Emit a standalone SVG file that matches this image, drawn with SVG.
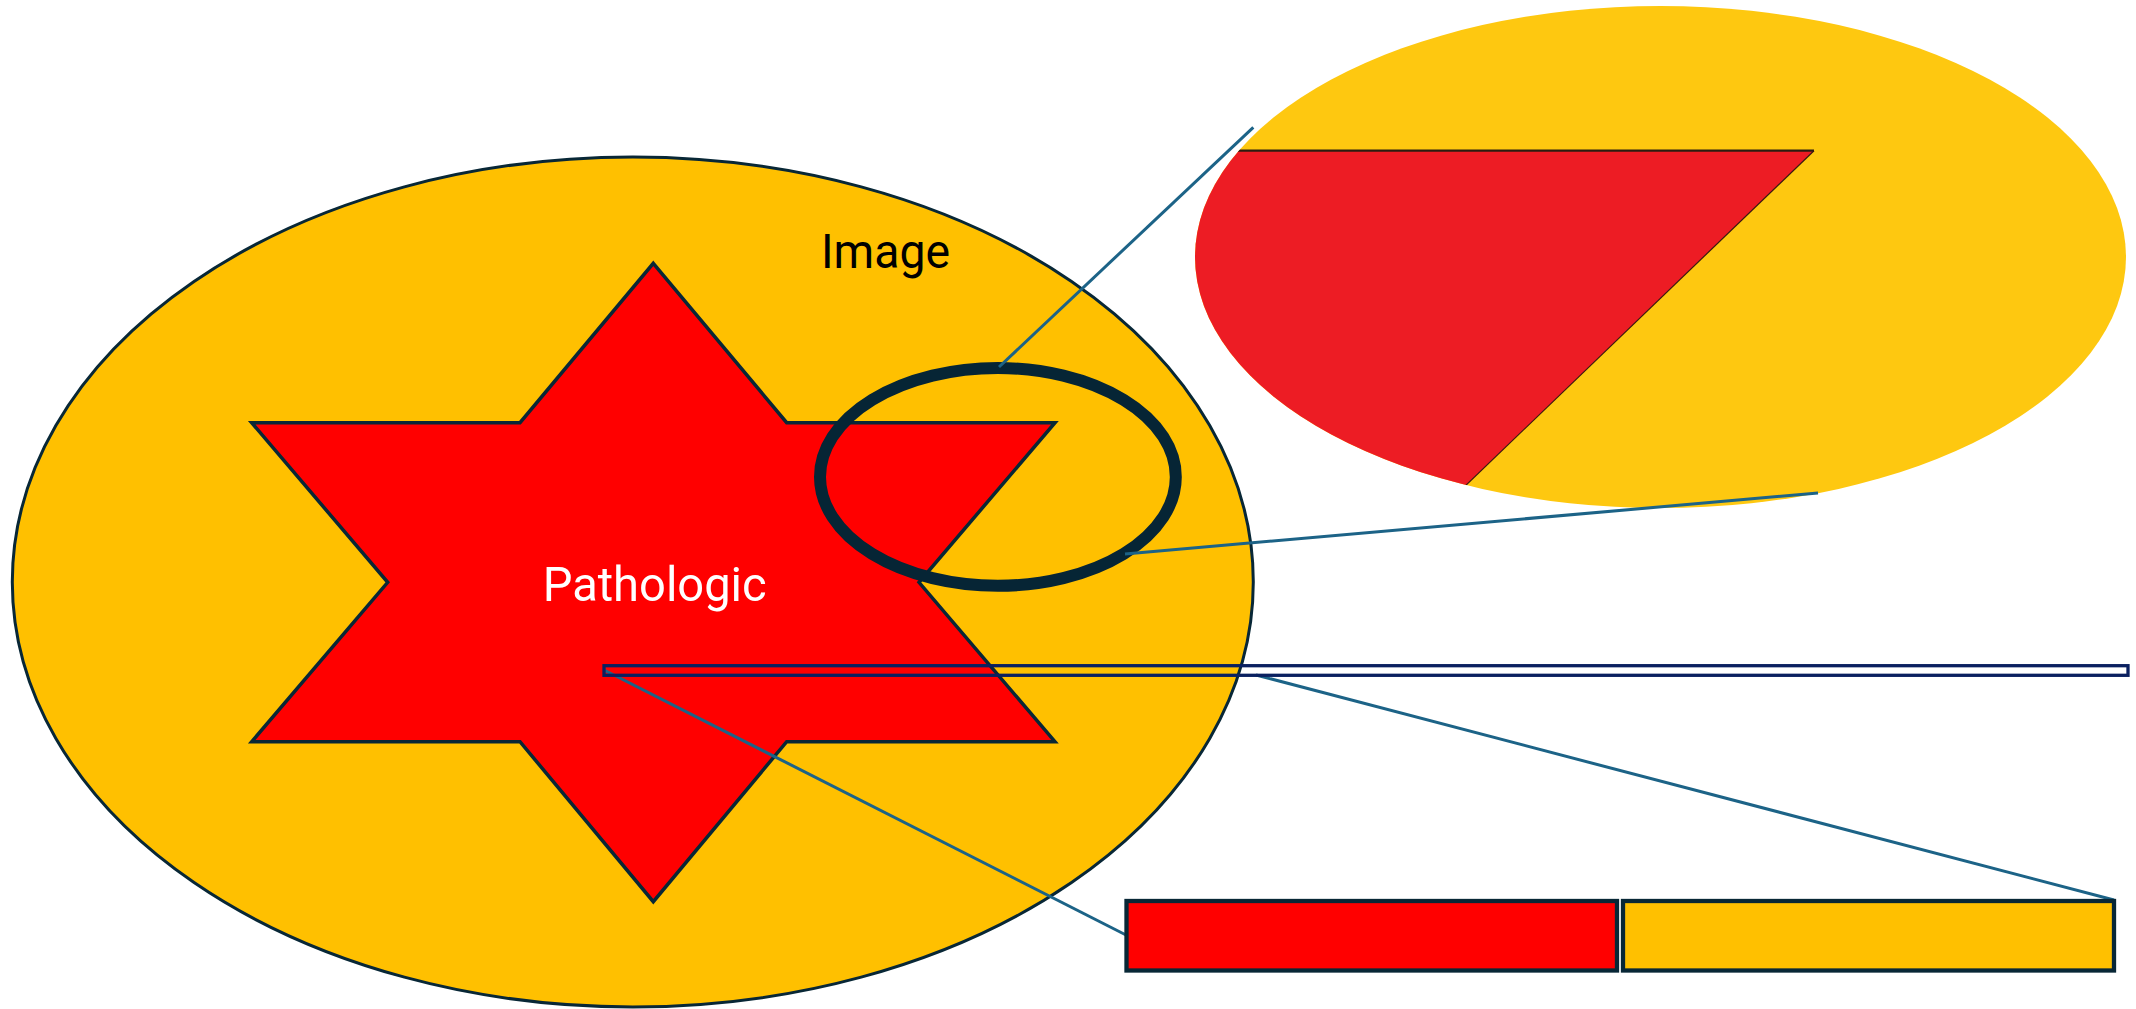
<svg xmlns="http://www.w3.org/2000/svg" width="2136" height="1009" viewBox="0 0 2136 1009">
  <style>
    .outline { stroke: #082736; stroke-linejoin: miter; }
    .conn { stroke: #1C6387; stroke-width: 3; fill: none; stroke-linecap: butt; }
    .lbl { font-family: Roboto, "Liberation Sans", sans-serif; font-size: 49px; font-weight: 400; }
  </style>
  <defs>
    <clipPath id="lensClip">
      <ellipse cx="1660.5" cy="257" rx="465.5" ry="251"/>
    </clipPath>
  </defs>

  <g id="image-ellipse">
    <ellipse cx="632.8" cy="582" rx="620.5" ry="425" fill="#FFC000" class="outline" stroke-width="3"/>
  </g>

  <g id="pathologic-star">
    <polygon class="outline" fill="#FF0000" stroke-width="3.5"
      points="653.3,263.3 786.7,422.7 1055,422.7 919,582.3 1055,741.7 786.7,741.7 653.3,901.7 520,741.7 251.7,741.7 387.7,582.3 251.7,422.7 520,422.7"/>
  </g>

  <g id="labels">
    <text class="lbl" x="821" y="268.3" fill="#000000" textLength="129" lengthAdjust="spacingAndGlyphs">Image</text>
    <text class="lbl" x="542.7" y="601" fill="#FFFFFF" textLength="224" lengthAdjust="spacingAndGlyphs">Pathologic</text>
  </g>

  <g id="zoom-lens">
    <ellipse cx="997.9" cy="476.9" rx="177.9" ry="108.9" fill="none" stroke="#062535" stroke-width="12"/>
  </g>

  <g id="magnified-view">
    <g clip-path="url(#lensClip)">
      <rect x="1190" y="0" width="946" height="515" fill="#FEC810"/>
      <polygon points="1180,150.7 1814,150.7 1409,540 1180,540" fill="#ED1C24"/>
      <line x1="1180" y1="150.7" x2="1814" y2="150.7" stroke="#2B1C10" stroke-width="2.2"/>
      <line x1="1814" y1="150.7" x2="1409" y2="540" stroke="#3A1A10" stroke-width="1.2"/>
    </g>
  </g>

  <g id="connectors">
    <line class="conn" x1="999" y1="367" x2="1253.3" y2="127.3"/>
    <line class="conn" x1="1125" y1="554" x2="1818" y2="493"/>
    <line class="conn" x1="604" y1="670" x2="1126" y2="935"/>
    <line class="conn" x1="1256" y1="675" x2="2114" y2="900"/>
  </g>

  <g id="strip">
    <rect x="604" y="665.7" width="1524" height="9.6" fill="none" stroke="#0A2060" stroke-width="3.3"/>
  </g>

  <g id="bar-pathologic">
    <rect x="1126.5" y="901" width="490.5" height="69.5" fill="#FF0000" class="outline" stroke-width="4.3"/>
  </g>
  <g id="bar-image">
    <rect x="1623" y="901" width="491" height="69.5" fill="#FFC000" class="outline" stroke-width="4.3"/>
  </g>
</svg>
